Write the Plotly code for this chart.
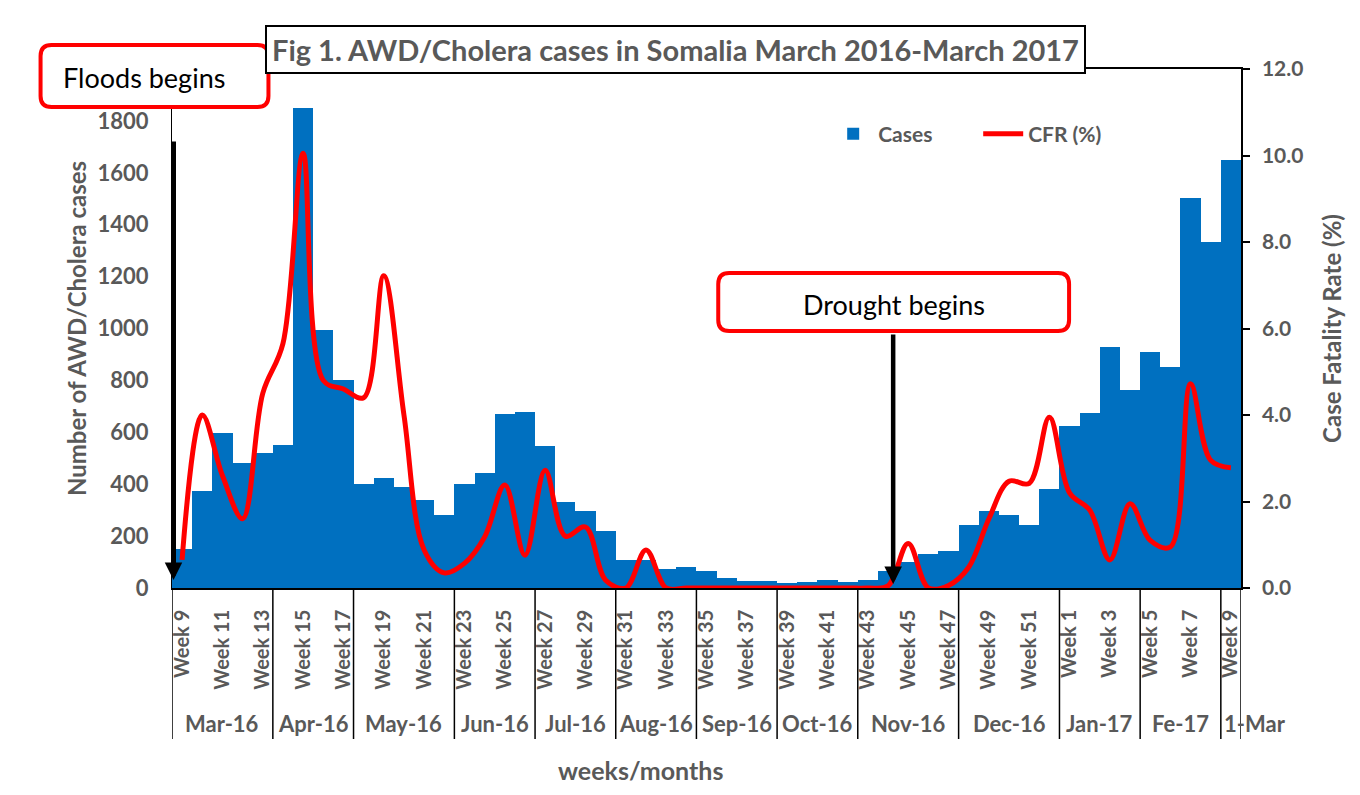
import plotly.graph_objects as go

# ---------------- data ----------------
weeks_2016 = list(range(9, 53))
weeks_2017 = list(range(1, 10))
week_labels = [f"Week {w}" for w in weeks_2016] + [f"Week {w}" for w in weeks_2017]

months = ["Mar-16", "Apr-16", "May-16", "Jun-16", "Jul-16", "Aug-16", "Sep-16",
          "Oct-16", "Nov-16", "Dec-16", "Jan-17", "Fe-17", "1-Mar"]
month_weeks = [5, 4, 5, 4, 4, 4, 4, 4, 5, 5, 4, 4, 1]

cases = [150, 375, 598, 480, 520, 553, 1850, 993, 800, 402, 425, 388, 340, 283,
         401, 443, 670, 677, 546, 332, 296, 218, 108, 107, 75, 82, 67, 40, 28, 26,
         20, 22, 30, 24, 30, 67, 100, 130, 141, 243, 297, 283, 241, 380, 625, 674,
         929, 764, 911, 853, 1502, 1332, 1648]

cfr = [0.65, 4.0, 2.6, 1.6, 4.5, 5.65, 10.05, 4.8, 4.6, 4.4, 7.22, 4.0, 0.88, 0.35,
       0.57, 1.18, 2.38, 0.76, 2.72, 1.2, 1.41, 0.18, 0.0, 0.88, 0.0, 0.0, 0.0, 0.0,
       0.0, 0.0, 0.0, 0.0, 0.0, 0.0, 0.0, 0.05, 1.03, 0.0, 0.06, 0.48, 1.6, 2.47,
       2.42, 3.95, 2.2, 1.8, 0.65, 1.95, 1.1, 0.95, 4.72, 2.95, 2.78]

# ---------------- layout geometry (screen px, page has 8px body margin) ----------------
OFF = 8
W, H = 1360 - OFF, 795 - OFF
PLOT_X0, PLOT_X1, PLOT_Y0, PLOT_Y1 = 171.5, 1241, 69, 588   # screen px
L = PLOT_X0 - OFF
T = PLOT_Y0 - OFF
R = W - (PLOT_X1 - OFF)
B = H - (PLOT_Y1 - OFF)
PW = PLOT_X1 - PLOT_X0
PH = PLOT_Y1 - PLOT_Y0
GRAY = "#595959"
FONT = "Lato"


def pxx(sx):
    return (sx - PLOT_X0) / PW


def pxy(sy):
    return (PLOT_Y1 - sy) / PH


def rounded_rect(x0, y0, x1, y1, r):
    rx, ry = r / PW, r / PH
    a, b, c, d = pxx(x0), pxx(x1), pxy(y0), pxy(y1)  # c top, d bottom
    return (f"M{a+rx},{c} L{b-rx},{c} Q{b},{c} {b},{c-ry} L{b},{d+ry} "
            f"Q{b},{d} {b-rx},{d} L{a+rx},{d} Q{a},{d} {a},{d+ry} "
            f"L{a},{c-ry} Q{a},{c} {a+rx},{c} Z")


x_idx = list(range(len(cases)))

fig = go.Figure()
fig.add_trace(go.Bar(x=x_idx, y=cases, name="Cases",
                     marker=dict(color="#0070C0", line=dict(width=0))))
fig.add_trace(go.Scatter(x=x_idx, y=cfr, name="CFR (%)", yaxis="y2", mode="lines",
                         line=dict(color="#FF0000", width=5, shape="spline",
                                   smoothing=1.0),
                         cliponaxis=False))

shapes = []
# month divider lines
bounds = [-0.5]
for n in month_weeks:
    bounds.append(bounds[-1] + n)
for bnd in bounds:
    shapes.append(dict(type="line", xref="x", yref="paper", x0=bnd, x1=bnd,
                       y0=0, y1=pxy(739), line=dict(color="black", width=1.5)))
# outer chart border
shapes.append(dict(type="rect", xref="paper", yref="paper", x0=pxx(6), x1=pxx(1355),
                   y0=pxy(6), y1=pxy(805), line=dict(color="#D9D9D9", width=1.5),
                   layer="below"))
# callout boxes
shapes.append(dict(type="path", xref="paper", yref="paper",
                   path=rounded_rect(40, 45, 268, 107, 11),
                   fillcolor="white", line=dict(color="#FF0000", width=4), layer="above"))
shapes.append(dict(type="path", xref="paper", yref="paper",
                   path=rounded_rect(718, 273, 1069, 331, 11),
                   fillcolor="white", line=dict(color="#FF0000", width=4), layer="above"))

annotations = []
# month labels (the one-week last segment is too narrow, so its label starts at its left divider)
for i, (m, n) in enumerate(zip(months, month_weeks)):
    if n > 1:
        cx, anchor = (bounds[i] + bounds[i + 1]) / 2, "center"
    else:
        cx, anchor = bounds[i] + 0.05, "left"
    annotations.append(dict(text=m, x=cx, xref="x", y=pxy(723), yref="paper",
                            showarrow=False, xanchor=anchor, yanchor="middle",
                            font=dict(family=FONT, size=22, color=GRAY, weight="bold")))
# x axis title
annotations.append(dict(text="weeks/months", x=pxx(640), y=pxy(770), xref="paper",
                        yref="paper", showarrow=False, xanchor="center", yanchor="middle",
                        font=dict(family=FONT, size=25, color=GRAY, weight="bold")))
# chart title
annotations.append(dict(text="Fig 1. AWD/Cholera cases in Somalia March 2016-March 2017",
                        x=pxx(675), y=pxy(49), xref="paper", yref="paper",
                        showarrow=False, xanchor="center", yanchor="middle",
                        bordercolor="black", borderwidth=2, borderpad=5, bgcolor="white",
                        font=dict(family=FONT, size=29, color=GRAY, weight="bold")))
# callout texts
annotations.append(dict(text="Floods begins", x=pxx(143), y=pxy(77), xref="paper",
                        yref="paper", showarrow=False, xanchor="center", yanchor="middle",
                        font=dict(family=FONT, size=27, color="black")))
annotations.append(dict(text="Drought begins", x=pxx(894), y=pxy(304), xref="paper",
                        yref="paper", showarrow=False, xanchor="center", yanchor="middle",
                        font=dict(family=FONT, size=27, color="black")))
# arrows
annotations.append(dict(text="", x=pxx(173), y=pxy(580), xref="paper", yref="paper",
                        showarrow=True, ax=0, ay=-(580 - 140), arrowcolor="black",
                        arrowwidth=5, arrowhead=2, arrowsize=0.7, standoff=0))
annotations.append(dict(text="", x=pxx(893), y=pxy(584), xref="paper", yref="paper",
                        showarrow=True, ax=0, ay=-(584 - 333), arrowcolor="black",
                        arrowwidth=4.5, arrowhead=2, arrowsize=0.78, standoff=0))

fig.update_layout(
    width=W, height=H,
    margin=dict(l=L, r=R, t=T, b=B, autoexpand=False),
    paper_bgcolor="white", plot_bgcolor="white",
    bargap=0,
    showlegend=True,
    legend=dict(orientation="h", x=pxx(828), y=pxy(134), xanchor="left",
                yanchor="middle", bgcolor="rgba(0,0,0,0)", entrywidth=95,
                entrywidthmode="pixels", itemwidth=40,
                font=dict(family=FONT, size=21, color=GRAY, weight="bold")),
    xaxis=dict(range=[-0.5, 52.5], tickmode="array", tickvals=x_idx[::2],
               ticktext=week_labels[::2], tickangle=-90, ticks="",
               ticklabelstandoff=12,
               showline=True, linecolor="black", linewidth=1.5, mirror=True,
               showgrid=False, zeroline=False,
               tickfont=dict(family=FONT, size=20, color=GRAY, weight="bold")),
    yaxis=dict(range=[0, 2000], tickmode="array", tickvals=list(range(0, 2000, 200)),
               ticks="", showline=True, linecolor="black", linewidth=1,
               showgrid=False, zeroline=False, ticklabelstandoff=18,
               tickfont=dict(family=FONT, size=22, color=GRAY, weight="bold"),
               title=dict(text="Number of AWD/Cholera cases", standoff=4,
                          font=dict(family=FONT, size=24, color=GRAY, weight="bold"))),
    yaxis2=dict(range=[0, 12], dtick=2, tickformat=".1f", overlaying="y", side="right",
                ticks="outside", ticklen=7, tickcolor="black", tickwidth=1.5,
                showline=True, linecolor="black", linewidth=1.5,
                showgrid=False, zeroline=False, ticklabelstandoff=8,
                tickfont=dict(family=FONT, size=21, color=GRAY, weight="bold"),
                title=dict(text="Case Fatality Rate (%)", standoff=22,
                           font=dict(family=FONT, size=24, color=GRAY, weight="bold"))),
    shapes=shapes,
    annotations=annotations,
)

fig.write_html("out.html")
